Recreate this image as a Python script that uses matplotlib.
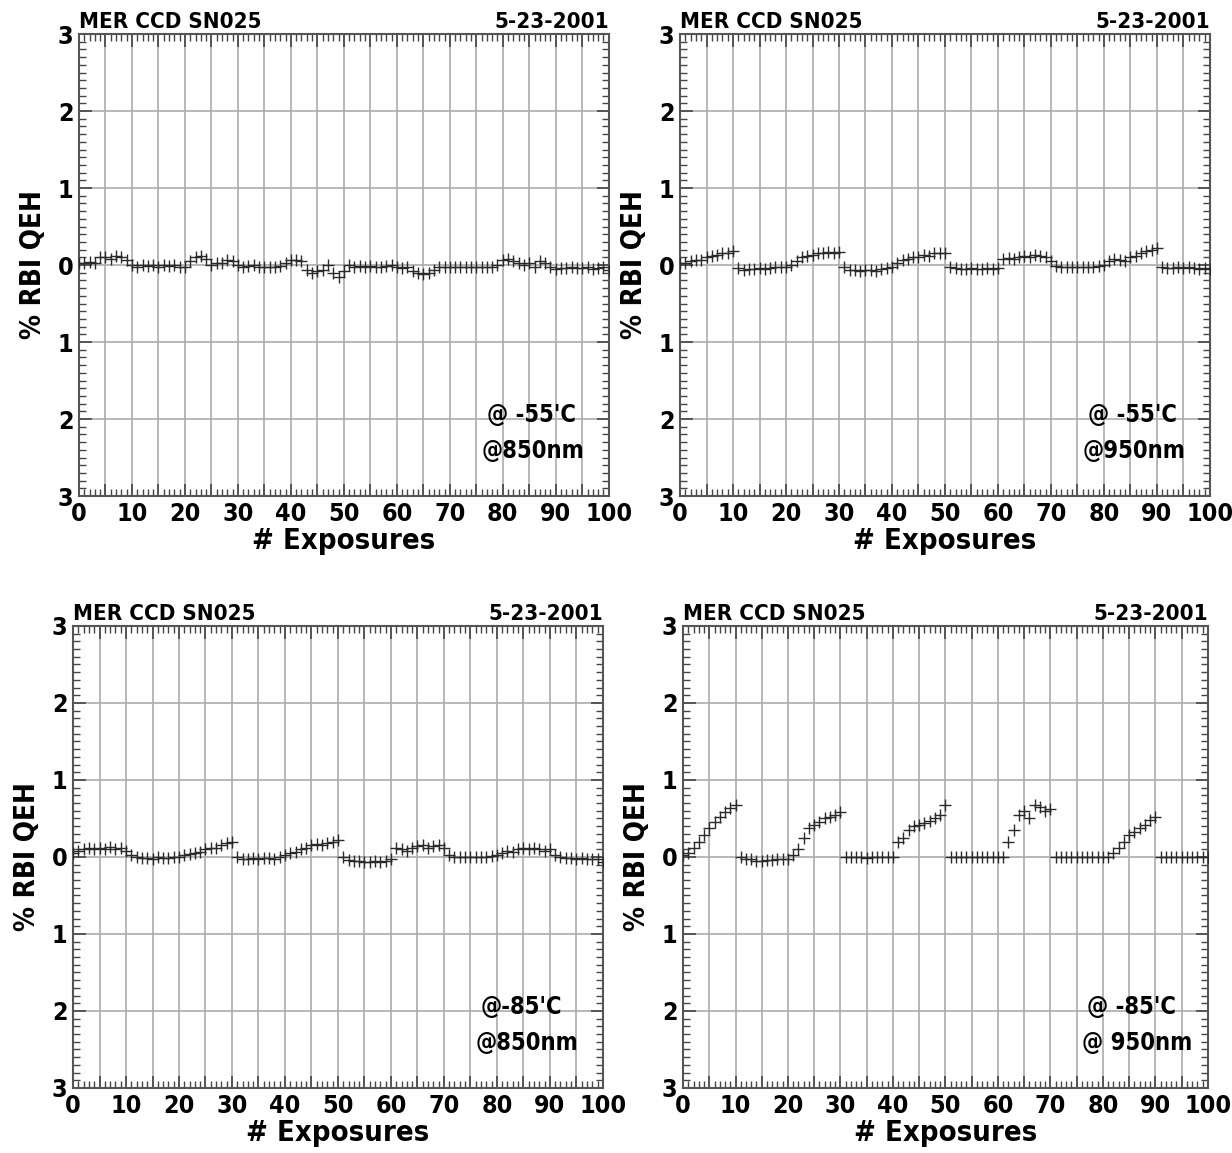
import numpy as np
import matplotlib
matplotlib.use("Agg")
from matplotlib import pyplot as plt
from matplotlib.ticker import MultipleLocator, FuncFormatter

plt.rcParams["font.family"] = ["DejaVu Sans"]
plt.rcParams["font.stretch"] = "condensed"
plt.rcParams["font.weight"] = "bold"

title_left = "MER CCD SN025"
title_right = "5-23-2001"
x_label = "# Exposures"
y_label = "% RBI QEH"

temps = ["@ -55'C", "@ -55'C", "@-85'C", "@ -85'C"]
waves = ["@850nm", "@950nm", "@850nm", "@ 950nm"]

qeh_55_850 = [0.03, 0.02, 0.04, 0.03, 0.1, 0.1, 0.08, 0.12, 0.1, 0.06,
              0.0, -0.02, 0.0, -0.01, 0.0, -0.02, 0.0, -0.01, 0.0, -0.02,
              -0.03, 0.05, 0.1, 0.12, 0.08, 0.0, 0.02, 0.03, 0.06, 0.05,
              0.0, -0.02, -0.01, 0.0, -0.02, -0.03, -0.02, -0.03, -0.01, 0.02,
              0.06, 0.07, 0.05, -0.07, -0.1, -0.08, -0.06, 0.0, -0.1, -0.15,
              -0.08, 0.0, -0.02, -0.01, -0.02, -0.01, -0.02, -0.03, -0.01, 0.0,
              -0.02, -0.04, -0.02, -0.08, -0.1, -0.12, -0.1, -0.06, -0.03, -0.02,
              -0.02, -0.02, -0.03, -0.02, -0.02, -0.02, -0.03, -0.02, -0.02, 0.0,
              0.06, 0.08, 0.05, 0.03, 0.0, 0.02, -0.02, 0.05, 0.02, -0.03,
              -0.05, -0.04, -0.04, -0.03, -0.04, -0.04, -0.03, -0.05, -0.04, -0.03, -0.06]

qeh_55_950 = [0.02, 0.03, 0.05, 0.06, 0.06, 0.1, 0.12, 0.13, 0.15, 0.16, 0.18,
              -0.04, -0.06, -0.05, -0.05, -0.04, -0.05, -0.04, -0.03, -0.03, -0.02,
              0.0, 0.05, 0.1, 0.12, 0.13, 0.15, 0.16, 0.17, 0.15, 0.17,
              -0.03, -0.06, -0.07, -0.08, -0.06, -0.07, -0.08, -0.05, -0.04, -0.03,
              0.02, 0.06, 0.08, 0.1, 0.11, 0.13, 0.12, 0.16, 0.15, 0.15,
              -0.03, -0.04, -0.05, -0.05, -0.04, -0.05, -0.05, -0.04, -0.05, -0.04,
              0.08, 0.09, 0.08, 0.1, 0.12, 0.11, 0.13, 0.12, 0.1, 0.05,
              -0.01, -0.02, -0.02, -0.02, -0.02, -0.02, -0.02, -0.02, -0.01, 0.0,
              0.05, 0.08, 0.06, 0.05, 0.1, 0.12, 0.15, 0.18, 0.2, 0.22,
              -0.02, -0.04, -0.04, -0.03, -0.04, -0.03, -0.04, -0.05, -0.04, -0.05]

qeh_85_850 = [0.05, 0.08, 0.1, 0.12, 0.1, 0.12, 0.1, 0.13, 0.1, 0.12, 0.08,
              0.02, 0.0, -0.01, -0.01, -0.02, 0.0, -0.01, -0.01, 0.0, 0.0,
              0.02, 0.04, 0.05, 0.06, 0.1, 0.12, 0.12, 0.15, 0.18, 0.2,
              0.0, -0.02, -0.02, -0.01, -0.02, -0.01, -0.01, -0.02, 0.0, 0.02,
              0.05, 0.07, 0.1, 0.12, 0.15, 0.17, 0.15, 0.18, 0.2, 0.22,
              0.0, -0.04, -0.05, -0.05, -0.06, -0.06, -0.05, -0.06, -0.05, -0.02,
              0.12, 0.1, 0.08, 0.12, 0.14, 0.15, 0.12, 0.14, 0.15, 0.12,
              0.02, 0.0, 0.0, 0.0, 0.0, 0.0, 0.0, 0.0, 0.01, 0.02,
              0.05, 0.08, 0.07, 0.1, 0.12, 0.1, 0.12, 0.1, 0.08, 0.1,
              0.02, 0.0, -0.01, -0.01, -0.02, -0.01, -0.02, -0.03, -0.02, -0.06]

qeh_85_950 = [0.02, 0.05, 0.12, 0.2, 0.28, 0.38, 0.45, 0.52, 0.58, 0.63, 0.68,
              0.0, -0.02, -0.03, -0.05, -0.05, -0.04, -0.04, -0.03, -0.03, -0.02,
              0.02, 0.1, 0.25, 0.38, 0.42, 0.46, 0.5, 0.52, 0.55, 0.58,
              0.0, 0.0, 0.0, 0.0, -0.01, 0.0, 0.0, 0.0, 0.0, 0.0,
              0.2, 0.25, 0.35, 0.4, 0.42, 0.44, 0.47, 0.5, 0.55, 0.68,
              0.0, 0.0, 0.0, 0.0, 0.0, 0.0, 0.0, 0.0, 0.0, 0.0,
              0.0, 0.2, 0.35, 0.55, 0.6, 0.5, 0.68, 0.65, 0.6, 0.62,
              0.0, 0.0, 0.0, 0.0, 0.0, 0.0, 0.0, 0.0, 0.0, 0.0,
              0.0, 0.05, 0.12, 0.2, 0.28, 0.32, 0.38, 0.42, 0.48, 0.52,
              0.0, 0.0, 0.0, 0.0, 0.0, 0.0, 0.0, 0.0, 0.0, 0.0]

series = [qeh_55_850, qeh_55_950, qeh_85_850, qeh_85_950]

fig = plt.figure(figsize=(12.32, 11.53), dpi=100)
boxes = [
    [0.0641, 0.5698, 0.430, 0.4007],
    [0.552, 0.5698, 0.430, 0.4007],
    [0.0593, 0.0564, 0.430, 0.4007],
    [0.5544, 0.0564, 0.426, 0.4007],
]

for box, vals, t, w in zip(boxes, series, temps, waves):
    ax = fig.add_axes(box)
    exposures = np.arange(len(vals))
    ax.plot(exposures, vals, "+", color="#2a2a2a", ms=8, mew=1.0, ls="none", zorder=3)
    ax.set_xlim(0, 100)
    ax.set_ylim(-3, 3)
    ax.xaxis.set_major_locator(MultipleLocator(5))
    ax.xaxis.set_minor_locator(MultipleLocator(1))
    ax.xaxis.set_major_formatter(FuncFormatter(lambda v, p: f"{int(v)}" if int(round(v)) % 10 == 0 else ""))
    ax.yaxis.set_major_locator(MultipleLocator(1))
    ax.yaxis.set_minor_locator(MultipleLocator(0.1))
    ax.yaxis.set_major_formatter(FuncFormatter(lambda v, p: f"{abs(int(round(v)))}"))
    ax.tick_params(which="both", direction="in", top=True, right=True, color="#444444")
    ax.tick_params(which="major", length=9, width=1.2, labelsize=18, pad=4)
    ax.tick_params(which="minor", length=5, width=1.0)
    ax.grid(True, which="major", color="#ababab", lw=1.2)
    for s in ax.spines.values():
        s.set_color("#555555")
        s.set_linewidth(1.5)
    ax.set_xlabel(x_label, fontsize=21, fontweight="bold", labelpad=1)
    ax.set_ylabel(y_label, fontsize=20, fontweight="bold", labelpad=8)
    ax.text(0.0, 1.005, title_left, transform=ax.transAxes, ha="left", va="bottom",
            fontsize=16, fontweight="bold")
    ax.text(1.0, 1.005, title_right, transform=ax.transAxes, ha="right", va="bottom",
            fontsize=16, fontweight="bold")
    ax.text(77, -1.95, t, ha="left", va="center", fontsize=17, fontweight="bold")
    ax.text(76, -2.42, w, ha="left", va="center", fontsize=17, fontweight="bold")

fig.savefig("out.png", dpi=100)
